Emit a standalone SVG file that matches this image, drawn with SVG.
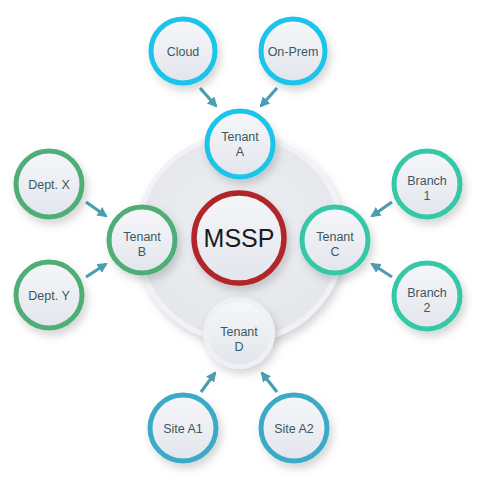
<svg xmlns="http://www.w3.org/2000/svg" width="500" height="500" viewBox="0 0 500 500">
<defs>
<linearGradient id="nf" x1="0" y1="0" x2="0" y2="1">
<stop offset="0" stop-color="#f6f7fa"/>
<stop offset="1" stop-color="#e2e5ec"/>
</linearGradient>
<radialGradient id="bg" cx="0.5" cy="0.45" r="0.55">
<stop offset="0" stop-color="#eef0f3"/>
<stop offset="1" stop-color="#e4e6eb"/>
</radialGradient>
<filter id="sh" x="-40%" y="-40%" width="180%" height="180%">
<feDropShadow dx="3" dy="5" stdDeviation="4.5" flood-color="#000" flood-opacity="0.17"/>
</filter>
<marker id="ah" viewBox="0 0 10 10" refX="8" refY="5" markerWidth="3.2" markerHeight="3.2" orient="auto" markerUnits="strokeWidth">
<path d="M0,0 L10,5 L0,10 Z" fill="#4b9db3"/>
</marker>
</defs>
<style>
.n{fill:url(#nf);stroke-width:5;filter:url(#sh)}
.cy{stroke:#1dc3ea}
.gr{stroke:#4fae77}
.tl{stroke:#35c8a6}
.bl{stroke:#3aaac6}
.t{font-family:"Liberation Sans",Arial,sans-serif;font-size:12.5px;fill:#3a5a60;text-anchor:middle}
.c path{stroke:#4b9db3;stroke-width:3.2;fill:none;marker-end:url(#ah)}
</style>
<rect width="500" height="500" fill="#ffffff"/>
<g id="hub">
<circle cx="240" cy="238" r="103" fill="url(#bg)" stroke="#f1f2f5" stroke-width="5" filter="url(#sh)"/>
</g>
<g class="c" id="connectors">
<path d="M200,88 L216,106"/>
<path d="M277,88 L261,106"/>
<path d="M86,202 L106,216"/>
<path d="M86,277 L106,264"/>
<path d="M392,202 L372,216"/>
<path d="M392,277 L372,264"/>
<path d="M201,392 L215,373"/>
<path d="M277,392 L262,373"/>
</g>
<g id="mssp">
<circle cx="239" cy="238" r="45" fill="url(#nf)" stroke="#b0262b" stroke-width="5.5" filter="url(#sh)"/>
<text x="239" y="247" font-family="'Liberation Sans',Arial,sans-serif" font-size="25" fill="#1a1a1a" text-anchor="middle">MSSP</text>
</g>
<g id="tenantA">
<circle class="n cy" cx="240" cy="144" r="33"/>
<text class="t" x="240" y="141">Tenant</text><text class="t" x="240" y="156">A</text>
</g>
<g id="tenantB">
<circle class="n gr" cx="142" cy="240" r="33"/>
<text class="t" x="142" y="241">Tenant</text><text class="t" x="142" y="256">B</text>
</g>
<g id="tenantC">
<circle class="n tl" cx="335" cy="240" r="33"/>
<text class="t" x="335" y="241">Tenant</text><text class="t" x="335" y="256">C</text>
</g>
<g id="tenantD">
<circle cx="239" cy="333" r="36" fill="#eef0f3" filter="url(#sh)"/>
<circle cx="239" cy="333" r="31" fill="url(#nf)"/>
<text class="t" x="239" y="336">Tenant</text><text class="t" x="239" y="351">D</text>
</g>
<g id="cloud">
<circle class="n cy" cx="183" cy="51" r="32"/>
<text class="t" x="183" y="56">Cloud</text>
</g>
<g id="onprem">
<circle class="n cy" cx="293" cy="51" r="32"/>
<text class="t" x="293" y="56">On-Prem</text>
</g>
<g id="deptX">
<circle class="n gr" cx="49" cy="184" r="33"/>
<text class="t" x="49" y="189">Dept. X</text>
</g>
<g id="deptY">
<circle class="n gr" cx="49" cy="295" r="33"/>
<text class="t" x="49" y="300">Dept. Y</text>
</g>
<g id="branch1">
<circle class="n tl" cx="427" cy="184" r="33"/>
<text class="t" x="427" y="185">Branch</text><text class="t" x="427" y="200">1</text>
</g>
<g id="branch2">
<circle class="n tl" cx="427" cy="296" r="33"/>
<text class="t" x="427" y="297">Branch</text><text class="t" x="427" y="312">2</text>
</g>
<g id="siteA1">
<circle class="n bl" cx="183" cy="428" r="33"/>
<text class="t" x="183" y="433">Site A1</text>
</g>
<g id="siteA2">
<circle class="n bl" cx="294" cy="428" r="33"/>
<text class="t" x="294" y="433">Site A2</text>
</g>
</svg>
